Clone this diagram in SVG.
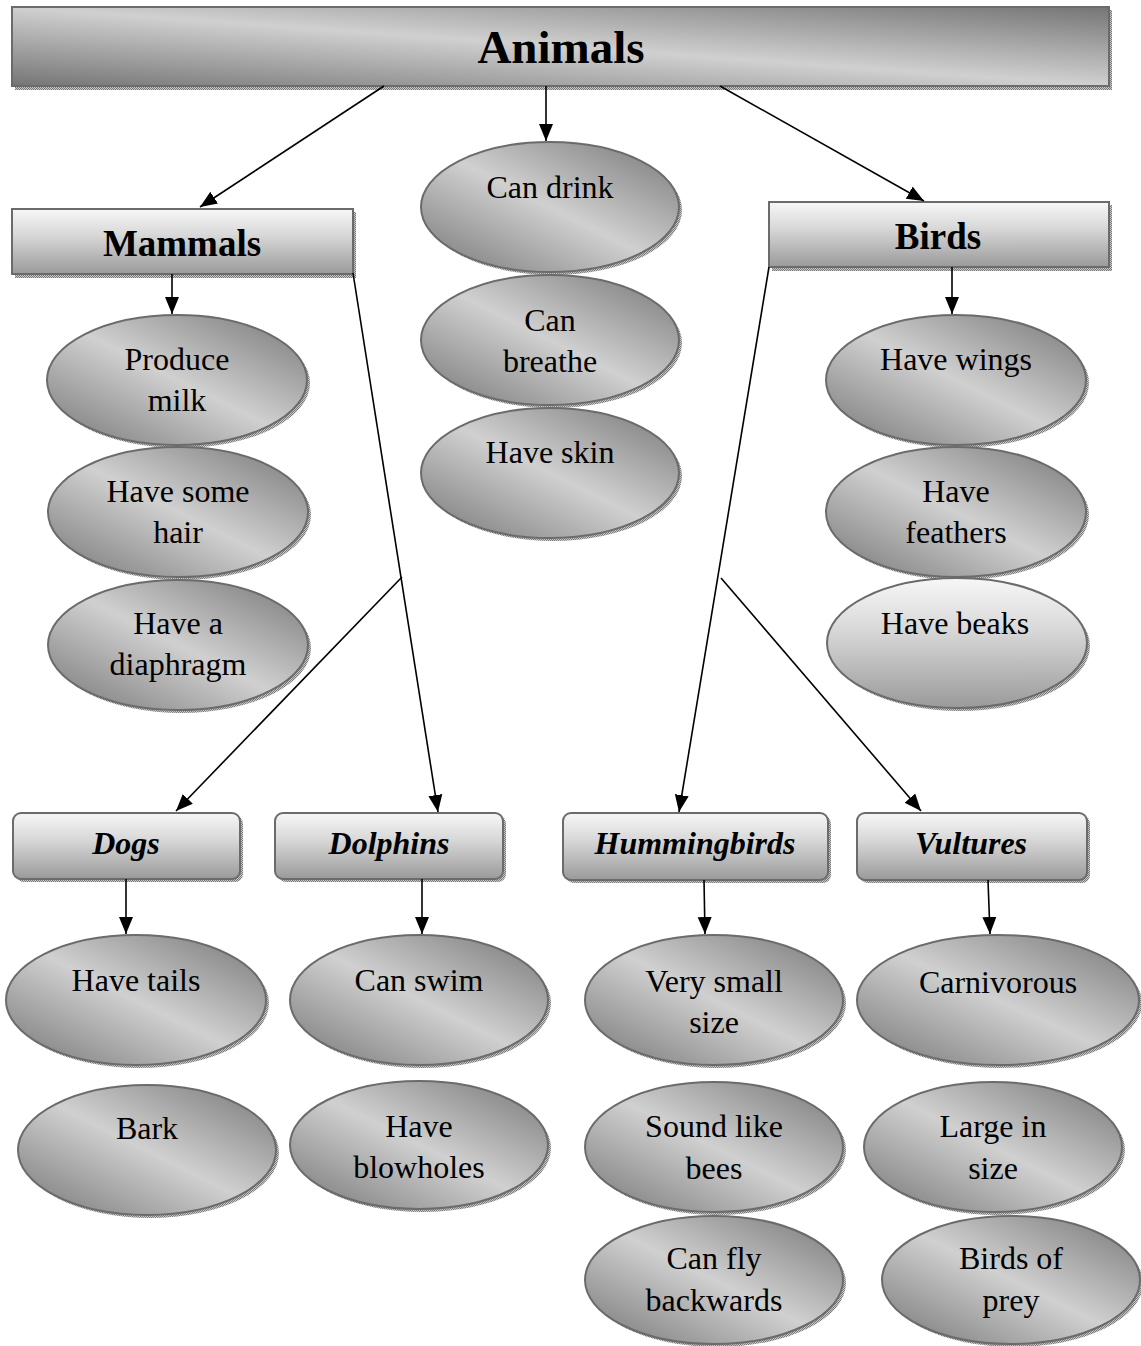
<svg xmlns="http://www.w3.org/2000/svg" width="1141" height="1346" viewBox="0 0 1141 1346">
<defs>
<linearGradient id="gd" x1="0" y1="1" x2="1" y2="0">
<stop offset="0" stop-color="#757575"/><stop offset="0.5" stop-color="#d0d0d0"/><stop offset="1" stop-color="#757575"/>
</linearGradient>
<linearGradient id="gv" x1="0" y1="0" x2="0" y2="1">
<stop offset="0" stop-color="#f7f7f7"/><stop offset="0.4" stop-color="#d8d8d8"/><stop offset="1" stop-color="#9a9a9a"/>
</linearGradient>
<pattern id="dots" width="2" height="2" patternUnits="userSpaceOnUse">
<rect width="2" height="2" fill="#c8c8c8"/><rect width="1" height="1" fill="#7a7a7a"/><rect x="1" y="1" width="1" height="1" fill="#7a7a7a"/>
</pattern>
<marker id="ah" markerUnits="userSpaceOnUse" markerWidth="18" markerHeight="18" viewBox="0 0 18 18" refX="17" refY="9" orient="auto">
<path d="M0,2 L17,9 L0,16 Z" fill="#000"/>
</marker>
<style>
.sh{fill:url(#dots);stroke:none}
.d{fill:url(#gd);stroke:#6b6b6b;stroke-width:2}
.v{fill:url(#gv);stroke:#6b6b6b;stroke-width:2}
text{font-family:"Liberation Serif","Times New Roman",serif;fill:#000;text-anchor:middle}
.t{font-size:32px}
.h{font-size:37px;font-weight:bold}
.s{font-size:32px;font-weight:bold;font-style:italic}
.c line{stroke:#000;stroke-width:1.6;fill:none}
.c .a{marker-end:url(#ah)}
</style>
</defs>
<rect width="1141" height="1346" fill="#fff"/>

<g id="animals">
<rect class="sh" x="15" y="10" width="1097" height="80"/>
<rect class="d" x="12" y="7" width="1097" height="79"/>
<text x="561" y="63" style="font-size:47px;font-weight:bold">Animals</text>
</g>

<g id="mammals">
<rect class="sh" x="15" y="212" width="341" height="66"/>
<rect class="v" x="12" y="209" width="341" height="65"/>
<text class="h" x="182" y="256">Mammals</text>
</g>

<g id="birds">
<rect class="sh" x="772" y="205" width="340" height="66"/>
<rect class="v" x="769" y="202" width="340" height="65"/>
<text class="h" x="938" y="249">Birds</text>
</g>

<g id="can-drink">
<ellipse class="sh" cx="553" cy="210" rx="129" ry="65"/>
<ellipse class="d" cx="550" cy="207" rx="129" ry="65"/>
<text class="t" x="550" y="198">Can drink</text>
</g>
<g id="can-breathe">
<ellipse class="sh" cx="553" cy="343" rx="129" ry="65"/>
<ellipse class="d" cx="550" cy="340" rx="129" ry="65"/>
<text class="t" x="550" y="331">Can</text>
<text class="t" x="550" y="372">breathe</text>
</g>
<g id="have-skin">
<ellipse class="sh" cx="553" cy="476" rx="129" ry="65"/>
<ellipse class="d" cx="550" cy="473" rx="129" ry="65"/>
<text class="t" x="550" y="463">Have skin</text>
</g>

<g id="produce-milk">
<ellipse class="sh" cx="180" cy="383" rx="130" ry="65"/>
<ellipse class="d" cx="177" cy="380" rx="130" ry="65"/>
<text class="t" x="177" y="370">Produce</text>
<text class="t" x="177" y="411">milk</text>
</g>
<g id="have-some-hair">
<ellipse class="sh" cx="181" cy="515" rx="130" ry="65"/>
<ellipse class="d" cx="178" cy="512" rx="130" ry="65"/>
<text class="t" x="178" y="502">Have some</text>
<text class="t" x="178" y="543">hair</text>
</g>
<g id="have-a-diaphragm">
<ellipse class="sh" cx="181" cy="648" rx="130" ry="65"/>
<ellipse class="d" cx="178" cy="645" rx="130" ry="65"/>
<text class="t" x="178" y="634">Have a</text>
<text class="t" x="178" y="675">diaphragm</text>
</g>

<g id="have-wings">
<ellipse class="sh" cx="959" cy="383" rx="130" ry="65"/>
<ellipse class="d" cx="956" cy="380" rx="130" ry="65"/>
<text class="t" x="956" y="370">Have wings</text>
</g>
<g id="have-feathers">
<ellipse class="sh" cx="959" cy="515" rx="130" ry="65"/>
<ellipse class="d" cx="956" cy="512" rx="130" ry="65"/>
<text class="t" x="956" y="502">Have</text>
<text class="t" x="956" y="543">feathers</text>
</g>
<g id="have-beaks">
<ellipse class="sh" cx="960" cy="646" rx="130" ry="65"/>
<ellipse class="v" cx="957" cy="643" rx="130" ry="65"/>
<text class="t" x="955" y="634">Have beaks</text>
</g>

<g id="dogs">
<rect class="sh" x="16" y="816" width="227" height="66" rx="8"/>
<rect class="v" x="13" y="813" width="227" height="66" rx="8"/>
<text class="s" x="126" y="854">Dogs</text>
</g>
<g id="dolphins">
<rect class="sh" x="278" y="816" width="228" height="66" rx="8"/>
<rect class="v" x="275" y="813" width="228" height="66" rx="8"/>
<text class="s" x="389" y="854">Dolphins</text>
</g>
<g id="hummingbirds">
<rect class="sh" x="566" y="816" width="265" height="67" rx="8"/>
<rect class="v" x="563" y="813" width="265" height="67" rx="8"/>
<text class="s" x="695" y="854">Hummingbirds</text>
</g>
<g id="vultures">
<rect class="sh" x="860" y="816" width="230" height="67" rx="8"/>
<rect class="v" x="857" y="813" width="230" height="67" rx="8"/>
<text class="s" x="971" y="854">Vultures</text>
</g>

<g id="have-tails">
<ellipse class="sh" cx="139" cy="1003" rx="130" ry="65"/>
<ellipse class="d" cx="136" cy="1000" rx="130" ry="65"/>
<text class="t" x="136" y="991">Have tails</text>
</g>
<g id="bark">
<ellipse class="sh" cx="150" cy="1153" rx="129" ry="65"/>
<ellipse class="d" cx="147" cy="1150" rx="129" ry="65"/>
<text class="t" x="147" y="1139">Bark</text>
</g>
<g id="can-swim">
<ellipse class="sh" cx="422" cy="1003" rx="129" ry="65"/>
<ellipse class="d" cx="419" cy="1000" rx="129" ry="65"/>
<text class="t" x="419" y="991">Can swim</text>
</g>
<g id="have-blowholes">
<ellipse class="sh" cx="422" cy="1148" rx="129" ry="64"/>
<ellipse class="d" cx="419" cy="1145" rx="129" ry="64"/>
<text class="t" x="419" y="1137">Have</text>
<text class="t" x="419" y="1178">blowholes</text>
</g>

<g id="very-small-size">
<ellipse class="sh" cx="717" cy="1003" rx="129" ry="65"/>
<ellipse class="d" cx="714" cy="1000" rx="129" ry="65"/>
<text class="t" x="714" y="992">Very small</text>
<text class="t" x="714" y="1033">size</text>
</g>
<g id="sound-like-bees">
<ellipse class="sh" cx="717" cy="1150" rx="129" ry="65"/>
<ellipse class="d" cx="714" cy="1147" rx="129" ry="65"/>
<text class="t" x="714" y="1137">Sound like</text>
<text class="t" x="714" y="1179">bees</text>
</g>
<g id="can-fly-backwards">
<ellipse class="sh" cx="717" cy="1283" rx="129" ry="64"/>
<ellipse class="d" cx="714" cy="1280" rx="129" ry="64"/>
<text class="t" x="714" y="1269">Can fly</text>
<text class="t" x="714" y="1311">backwards</text>
</g>

<g id="carnivorous">
<ellipse class="sh" cx="1001" cy="1003" rx="141" ry="65"/>
<ellipse class="d" cx="998" cy="1000" rx="141" ry="65"/>
<text class="t" x="998" y="993">Carnivorous</text>
</g>
<g id="large-in-size">
<ellipse class="sh" cx="996" cy="1150" rx="129" ry="65"/>
<ellipse class="d" cx="993" cy="1147" rx="129" ry="65"/>
<text class="t" x="993" y="1137">Large in</text>
<text class="t" x="993" y="1179">size</text>
</g>
<g id="birds-of-prey">
<ellipse class="sh" cx="1014" cy="1283" rx="129" ry="64"/>
<ellipse class="d" cx="1011" cy="1280" rx="129" ry="64"/>
<text class="t" x="1011" y="1269">Birds of</text>
<text class="t" x="1011" y="1311">prey</text>
</g>

<g id="connectors" class="c">
<line class="a" x1="384" y1="86" x2="200" y2="207"/>
<line class="a" x1="546" y1="86" x2="546" y2="141"/>
<line class="a" x1="720" y1="86" x2="924" y2="201"/>
<line class="a" x1="172" y1="274" x2="172" y2="314"/>
<line class="a" x1="952" y1="267" x2="952" y2="314"/>
<line class="a" x1="353" y1="273" x2="438" y2="812"/>
<line class="a" x1="402" y1="577" x2="176" y2="811"/>
<line class="a" x1="769" y1="267" x2="679" y2="812"/>
<line class="a" x1="721" y1="578" x2="921" y2="811"/>
<line class="a" x1="126" y1="879" x2="126" y2="934"/>
<line class="a" x1="422" y1="879" x2="422" y2="934"/>
<line class="a" x1="704" y1="880" x2="705" y2="934"/>
<line class="a" x1="988" y1="880" x2="990" y2="934"/>
</g>
</svg>
